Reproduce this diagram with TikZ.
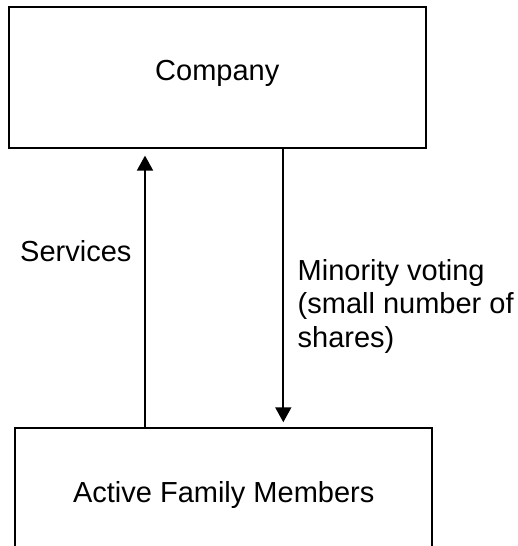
\documentclass[tikz,border=0pt]{standalone}
\usepackage{fontspec}
\setmainfont{Liberation Sans}
\usetikzlibrary{arrows.meta}

\begin{document}
\begin{tikzpicture}[x=1pt,y=-1pt,
  box/.style={draw,line width=1.8pt,minimum width=416.7pt,minimum height=140.7pt,
    text height=27pt,text depth=20pt,inner sep=0pt},
  txt/.style={font=\fontsize{29}{33.3}\selectfont},
  flow/.style={line width=1.8pt,-{Triangle[width=16pt,length=15pt]}}]
\useasboundingbox (0,0) rectangle (518,546);
\clip (0,0) rectangle (518,546);
\fill[color=white] (0,0) rectangle (518,546);
% boxes
\node[box,txt] (company) at (217.3,77.35) {Company};
\node[box,txt] (members) at (223.7,498.5) {Active Family Members};
% arrows
\coordinate (upx) at (145,0);
\coordinate (downx) at (283.3,0);
\draw[flow,shorten >=7pt] (members.north -| upx) -- (company.south -| upx);
\draw[flow,shorten >=5pt] (company.south -| downx) -- (members.north -| downx);
% labels
\node[txt,inner sep=0pt,anchor=base west] (services) at (20,261) {Services};
\node[txt,inner sep=0pt,anchor=base west,align=left] (voting) at (297.5,347)
  {Minority voting\\(small number of\\shares)};
\end{tikzpicture}
\end{document}
